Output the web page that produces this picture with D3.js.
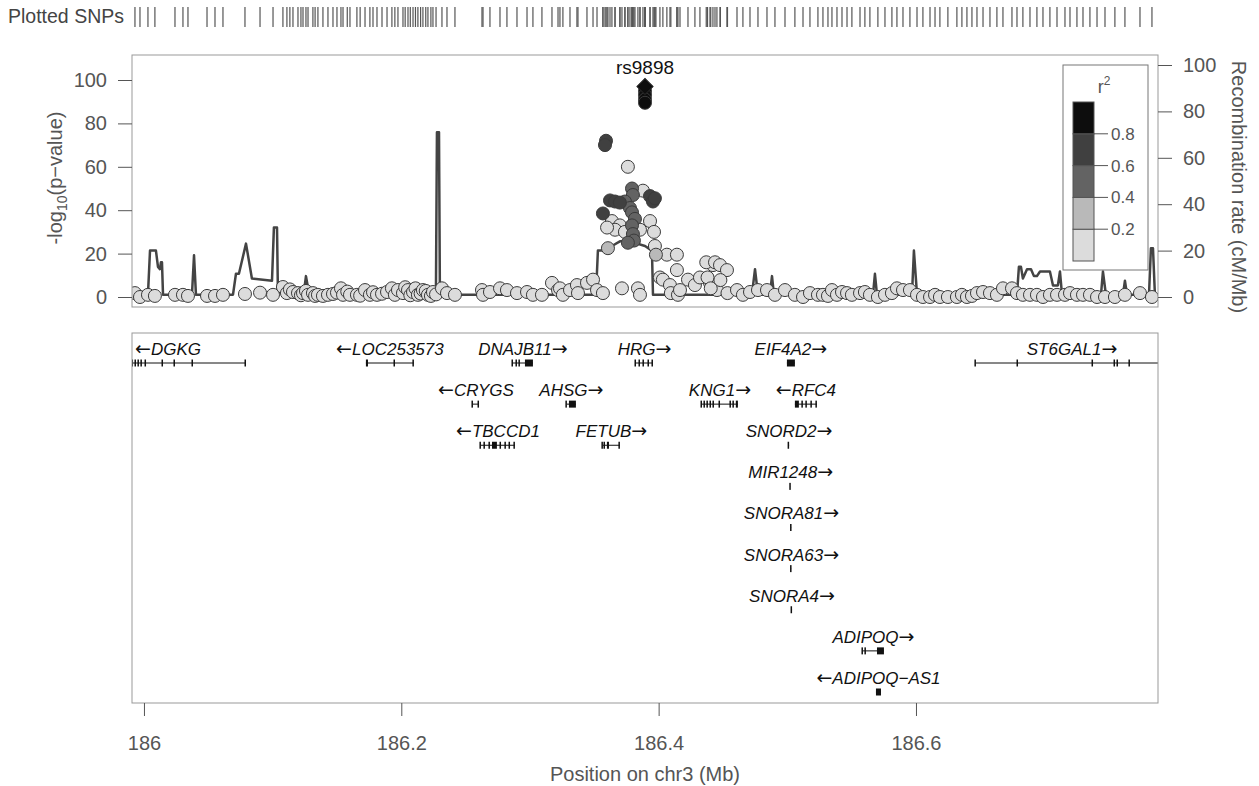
<!DOCTYPE html>
<html>
<head>
<meta charset="utf-8">
<script src="https://cdn.jsdelivr.net/npm/d3@7"></script>
<style>
body { margin: 0; background: #fff; }
text { font-family: "Liberation Sans", Arial, sans-serif; }
</style>
</head>
<body>
<svg id="chart" width="1259" height="786"></svg>
<script>
// ---- data ----
var xTicks = [186, 186.2, 186.4, 186.6];
var pTicks = [0, 20, 40, 60, 80, 100];
var recTicks = [0, 20, 40, 60, 80, 100];
var r2Breaks = [0.2, 0.4, 0.6, 0.8];
var r2Colors = ['#dcdcdc', '#b9b9b9', '#636363', '#404040', '#0d0d0d'];

var leadSnp = { name: 'rs9898', pos: 186.3894, logp: 97 };

// [position (Mb), -log10 p, r2]
var snps = [
  [185.9930,1.8,0.05],[185.9969,0,0.05],[186.0031,1,0.05],[186.0085,0.5,0.05],[186.0241,1,0.05],
  [186.0303,1,0.05],[186.0342,0.5,0.05],[186.0490,0.5,0.05],[186.0552,0.5,0.05],[186.0614,1,0.05],
  [186.0785,1.4,0.05],[186.0902,2,0.05],[186.1003,1,0.05],[186.1080,4.6,0.05],[186.1111,1.8,0.05],
  [186.1134,3.5,0.05],[186.1158,2.3,0.05],[186.1197,1.8,0.05],[186.1220,0.8,0.05],[186.1236,1.8,0.05],
  [186.1259,2.8,0.05],[186.1275,1,0.05],[186.1313,1.8,0.05],[186.1330,0.5,0.05],[186.1352,1,0.05],
  [186.1391,0.5,0.05],[186.1430,1,0.05],[186.1469,1.4,0.05],[186.1500,2,0.05],[186.1531,4,0.05],
  [186.1547,1,0.05],[186.1580,2.5,0.05],[186.1601,1,0.05],[186.1655,1,0.05],[186.1680,0.6,0.05],
  [186.1718,3.2,0.05],[186.1756,1,0.05],[186.1780,2.2,0.05],[186.1811,1,0.05],[186.1850,1.5,0.05],
  [186.1889,2.3,0.05],[186.1927,4,0.05],[186.1950,1,0.05],[186.1974,3.2,0.05],[186.2013,1.8,0.05],
  [186.2030,4.5,0.05],[186.2052,3.2,0.05],[186.2070,0.8,0.05],[186.2091,2.3,0.05],[186.2110,4,0.05],
  [186.2129,1,0.05],[186.2150,1.6,0.05],[186.2168,3.2,0.05],[186.2190,2.8,0.05],[186.2207,1,0.05],
  [186.2230,0.5,0.05],[186.2246,2.3,0.05],[186.2270,1.2,0.05],[186.2316,4,0.05],[186.2355,1.8,0.05],
  [186.2417,1,0.05],[186.2627,3.2,0.05],[186.2635,1,0.05],[186.2689,2.3,0.05],[186.2767,4,0.05],
  [186.2821,3.2,0.05],[186.2899,1.8,0.05],[186.2977,2.3,0.05],[186.3023,1,0.05],[186.3093,1,0.05],
  [186.3171,6.5,0.05],[186.3218,3.2,0.05],[186.3233,4,0.05],[186.3256,1,0.05],[186.3311,3.2,0.05],
  [186.3365,5.5,0.05],[186.3373,1.8,0.05],[186.3443,6.5,0.05],[186.3490,8,0.05],[186.3521,3.2,0.05],
  [186.3567,1.8,0.05],[186.3715,4,0.05],[186.3839,4,0.05],[186.3855,1,0.05],
  [186.4010,9,0.05],[186.4033,8,0.05],[186.4088,5.5,0.05],[186.4095,1.8,0.05],[186.4142,12.4,0.05],
  [186.4150,1,0.05],[186.4166,3.2,0.05],[186.4228,8,0.05],[186.4282,5.5,0.05],[186.4321,9,0.05],
  [186.4399,6.5,0.05],[186.4422,14.7,0.05],[186.4453,3.2,0.05],[186.4370,16,0.05],[186.4438,16,0.05],
  [186.4477,14.7,0.05],[186.4531,12.4,0.05],[186.4380,9,0.05],[186.4405,4,0.05],[186.4480,7.8,0.05],
  [186.4535,1.8,0.05],[186.4609,3.2,0.05],[186.4655,1,0.05],[186.4710,2.3,0.05],[186.4772,3.2,0.05],
  [186.4842,3.2,0.05],[186.4904,1,0.05],[186.4982,3.2,0.05],[186.5059,1,0.05],[186.5122,0,0.05],
  [186.5176,1.8,0.05],[186.5238,1,0.05],[186.5277,1,0.05],[186.5316,0.5,0.05],[186.5347,3.2,0.05],
  [186.5386,1,0.05],[186.5425,2.3,0.05],[186.5464,1.8,0.05],[186.5502,1,0.05],[186.5565,1.8,0.05],
  [186.5603,2.3,0.05],[186.5642,1,0.05],[186.5704,0,0.05],[186.5759,1,0.05],[186.5813,1.8,0.05],
  [186.5852,4,0.05],[186.5899,3.2,0.05],[186.5953,3.2,0.05],[186.6008,1,0.05],[186.6054,0,0.05],
  [186.6109,0,0.05],[186.6148,1,0.05],[186.6186,0,0.05],[186.6248,0,0.05],[186.6318,0,0.05],
  [186.6357,1,0.05],[186.6396,0,0.05],[186.6435,0.5,0.05],[186.6474,1.8,0.05],[186.6521,2.3,0.05],
  [186.6575,1.8,0.05],[186.6629,1,0.05],[186.6676,4,0.05],[186.6746,4,0.05],[186.6785,1.8,0.05],
  [186.6831,1,0.05],[186.6886,1,0.05],[186.6940,1,0.05],[186.6987,0,0.05],[186.7041,1,0.05],
  [186.7096,1,0.05],[186.7158,1,0.05],[186.7197,1.8,0.05],[186.7251,1,0.05],[186.7298,1,0.05],
  [186.7352,1,0.05],[186.7407,0,0.05],[186.7469,0,0.05],[186.7546,0,0.05],[186.7624,1,0.05],
  [186.7741,1.8,0.05],[186.7834,0,0.05],
  // peak cluster
  [186.3894,95,0.95],[186.3894,93,0.95],[186.3894,91,0.95],[186.3894,89.5,0.95],
  [186.3591,72,0.7],[186.3583,70,0.7],[186.3761,60,0.1],
  [186.3793,50,0.5],[186.3800,47,0.5],[186.3933,46.5,0.7],[186.3956,44,0.7],[186.3971,45.5,0.7],
  [186.3622,44.5,0.7],[186.3661,44,0.7],[186.3699,43.5,0.7],[186.3738,44,0.5],[186.3567,38.5,0.7],
  [186.3878,49,0.1],[186.3777,41,0.5],[186.3793,39,0.5],[186.3816,36,0.5],[186.3793,33,0.5],
  [186.3800,29,0.5],[186.3808,26,0.5],[186.3761,25,0.5],[186.3637,35,0.1],[186.3699,33,0.1],
  [186.3661,31,0.1],[186.3599,32,0.1],[186.3738,30,0.1],[186.3933,35,0.1],[186.3964,30,0.1],
  [186.3855,31,0.1],[186.3606,22.5,0.3],[186.3971,23.5,0.1],[186.3979,19.5,0.3],[186.4064,19.5,0.1],
  [186.4142,19.5,0.1]
];

// recombination rate (cM/Mb)
var recombPos = [185.9907,186.0031,186.0047,186.0093,186.0109,186.0124,186.0132,186.0140,186.0148,
  186.0373,186.0389,186.0404,186.0692,186.0715,186.0738,186.0793,186.0839,186.0995,186.1010,186.1034,
  186.1041,186.1243,186.1259,186.1275,186.1298,186.1313,186.2269,186.2277,186.2293,186.2300,
  186.3513,186.3528,186.3583,186.3637,186.3699,186.3777,186.3894,186.3948,186.3956,
  186.4725,186.4749,186.4772,186.4865,186.4881,186.4896,186.5666,186.5681,186.5697,
  186.5969,186.5984,186.6008,186.6785,186.6800,186.6816,186.6831,186.6863,186.6894,186.6917,
  186.6940,186.6964,186.7041,186.7065,186.7103,186.7119,186.7135,186.7438,186.7453,186.7476,
  186.7609,186.7624,186.7640,186.7811,186.7826,186.7842,186.7857,186.7881];
var recombRate = [1,1,20,20,13,12,15,15,1,
  1,18,1,1,10,10,23,8,7,30,30,
  2,2,9,4,4,1,1,71,71,1,
  1,20,20,22,24,24,22,20,1,
  1,12,1,1,9,1,1,10,1,
  1,20,1,1,13,13,8,12,12,9,
  9,11,11,5,5,11,1,1,11,1,
  1,7,1,1,21,21,1,1];

// genes: exons as [start, end] in Mb
var genes = [
  { name: 'DGKG', start: 185.864, end: 186.0793, strand: '-', row: 0,
    exons: [[185.9915,185.9915],[185.9938,185.9938],[185.9961,185.9961],[185.9984,185.9984],[186.0016,186.0016],
            [186.0148,186.0148],[186.0241,186.0241],[186.0381,186.0381],[186.0793,186.0793]] },
  { name: 'LOC253573', start: 186.1725, end: 186.2098, strand: '-', row: 0,
    exons: [[186.1725,186.1741],[186.1951,186.1951],[186.2098,186.2098]] },
  { name: 'DNAJB11', start: 186.2868, end: 186.3023, strand: '+', row: 0,
    exons: [[186.2868,186.2868],[186.2899,186.2899],[186.2922,186.2922],[186.2961,186.3023]] },
  { name: 'HRG', start: 186.3824, end: 186.3956, strand: '+', row: 0,
    exons: [[186.3824,186.3824],[186.3855,186.3855],[186.3886,186.3886],[186.3917,186.3925],[186.3956,186.3956]] },
  { name: 'EIF4A2', start: 186.4997, end: 186.5059, strand: '+', row: 0,
    exons: [[186.4997,186.5059]] },
  { name: 'ST6GAL1', start: 186.6466, end: 186.796, strand: '+', row: 0,
    exons: [[186.6466,186.6466],[186.6793,186.6793],[186.7376,186.7376],[186.7547,186.7547],[186.7570,186.7570],[186.7663,186.7663]] },
  { name: 'CRYGS', start: 186.2557, end: 186.2604, strand: '-', row: 1,
    exons: [[186.2557,186.2557],[186.2604,186.2604]] },
  { name: 'AHSG', start: 186.3287, end: 186.3357, strand: '+', row: 1,
    exons: [[186.3287,186.3287],[186.3303,186.3357]] },
  { name: 'KNG1', start: 186.4337, end: 186.4616, strand: '+', row: 1,
    exons: [[186.4337,186.4337],[186.4360,186.4360],[186.4383,186.4383],[186.4407,186.4407],[186.4430,186.4430],
            [186.4477,186.4477],[186.4562,186.4562],[186.4585,186.4585],[186.4600,186.4616]] },
  { name: 'RFC4', start: 186.5059, end: 186.5230, strand: '-', row: 1,
    exons: [[186.5059,186.5090],[186.5121,186.5121],[186.5152,186.5152],[186.5191,186.5191],[186.5230,186.5230]] },
  { name: 'TBCCD1', start: 186.2619, end: 186.2883, strand: '-', row: 2,
    exons: [[186.2619,186.2619],[186.2650,186.2650],[186.2689,186.2689],[186.2705,186.2743],[186.2775,186.2775],
            [186.2813,186.2813],[186.2845,186.2845],[186.2883,186.2883]] },
  { name: 'FETUB', start: 186.3567, end: 186.3699, strand: '+', row: 2,
    exons: [[186.3567,186.3567],[186.3583,186.3583],[186.3598,186.3614],[186.3699,186.3699]] },
  { name: 'SNORD2', start: 186.5013, end: 186.5014, strand: '+', row: 2, exons: [[186.5013,186.5014]] },
  { name: 'MIR1248', start: 186.5026, end: 186.5027, strand: '+', row: 3, exons: [[186.5026,186.5027]] },
  { name: 'SNORA81', start: 186.5032, end: 186.5033, strand: '+', row: 4, exons: [[186.5032,186.5033]] },
  { name: 'SNORA63', start: 186.5032, end: 186.5033, strand: '+', row: 5, exons: [[186.5032,186.5033]] },
  { name: 'SNORA4', start: 186.5036, end: 186.5037, strand: '+', row: 6, exons: [[186.5036,186.5037]] },
  { name: 'ADIPOQ', start: 186.5588, end: 186.5751, strand: '+', row: 7,
    exons: [[186.5588,186.5588],[186.5611,186.5611],[186.5697,186.5751]] },
  { name: 'ADIPOQ\u2212AS1', start: 186.5689, end: 186.5728, strand: '-', row: 8,
    exons: [[186.5689,186.5728]] }
];

// ---- layout ----
var svg = d3.select('#chart');
var plotL = 132, plotR = 1158;
var topY = 55, topB = 307;
var genesT = 333, genesB = 703;
var axisColor = '#555';

var x = d3.scaleLinear().domain([185.9907, 186.7881]).range([plotL, plotR]);
var y = d3.scaleLinear().domain([0, 100]).range([297, 80]);
var yRec = d3.scaleLinear().domain([0, 100]).range([297, 65]);
var rowY = d3.scaleLinear().domain([0, 8]).range([349, 678]);
var color = d3.scaleThreshold().domain(r2Breaks).range(r2Colors);

var defs = svg.append('defs');
defs.append('clipPath').attr('id', 'clipTop')
  .append('rect').attr('x', plotL).attr('y', topY).attr('width', plotR - plotL).attr('height', topB - topY);
defs.append('clipPath').attr('id', 'clipGenes')
  .append('rect').attr('x', plotL).attr('y', genesT).attr('width', plotR - plotL).attr('height', genesB - genesT);

// Plotted SNPs strip
svg.append('text')
  .attr('x', 8).attr('y', 23)
  .attr('font-size', 19.5).attr('fill', '#444')
  .text('Plotted SNPs');
svg.append('g').selectAll('line')
  .data(snps.map(function(d) { return d[0]; }).concat([leadSnp.pos]))
  .enter().append('line')
  .attr('x1', function(d) { return x(d); }).attr('x2', function(d) { return x(d); })
  .attr('y1', 7).attr('y2', 27)
  .attr('stroke', '#555').attr('stroke-width', 1.2);

// ---- association panel ----
var topG = svg.append('g');
var plotArea = topG.append('g').attr('clip-path', 'url(#clipTop)');

plotArea.append('path')
  .datum(d3.range(recombPos.length))
  .attr('fill', 'none')
  .attr('stroke', '#444')
  .attr('stroke-width', 2.5)
  .attr('stroke-linejoin', 'round')
  .attr('d', d3.line()
    .x(function(i) { return x(recombPos[i]); })
    .y(function(i) { return yRec(recombRate[i]); }));

var sorted = snps.slice().sort(function(a, b) { return a[2] - b[2]; });
plotArea.selectAll('.dot')
  .data(sorted)
  .enter().append('circle')
  .attr('class', 'dot')
  .attr('cx', function(d) { return x(d[0]); })
  .attr('cy', function(d) { return y(d[1]); })
  .attr('r', 6.5)
  .attr('fill', function(d) { return color(d[2]); })
  .attr('stroke', '#3a3a3a')
  .attr('stroke-width', 1);

// lead SNP diamond
plotArea.append('path')
  .attr('d', d3.symbol().type(d3.symbolSquare).size(130)())
  .attr('transform', 'translate(' + x(leadSnp.pos) + ',' + y(leadSnp.logp) + ') rotate(45)')
  .attr('fill', r2Colors[4])
  .attr('stroke', '#222');

topG.append('text')
  .attr('x', x(leadSnp.pos)).attr('y', 74)
  .attr('text-anchor', 'middle')
  .attr('font-size', 19).attr('fill', '#111')
  .text(leadSnp.name);

topG.append('rect')
  .attr('x', plotL).attr('y', topY).attr('width', plotR - plotL).attr('height', topB - topY)
  .attr('fill', 'none').attr('stroke', '#999');

function styleAxis(g) {
  g.select('.domain').remove();
  g.selectAll('.tick line').attr('stroke', axisColor);
  g.selectAll('.tick text')
    .attr('fill', axisColor)
    .attr('font-size', 20)
    .attr('font-family', '"Liberation Sans", Arial, sans-serif');
}

topG.append('g')
  .attr('transform', 'translate(' + plotL + ',0)')
  .call(d3.axisLeft(y).tickValues(pTicks).tickSize(14).tickPadding(11))
  .call(styleAxis);

topG.append('g')
  .attr('transform', 'translate(' + plotR + ',0)')
  .call(d3.axisRight(yRec).tickValues(recTicks).tickSize(14).tickPadding(11))
  .call(styleAxis);

var yTitle = topG.append('text')
  .attr('transform', 'translate(62,178) rotate(-90)')
  .attr('text-anchor', 'middle')
  .attr('font-size', 20).attr('fill', axisColor);
yTitle.append('tspan').text('-log');
yTitle.append('tspan').attr('font-size', 14).attr('dy', 5).text('10');
yTitle.append('tspan').attr('dy', -5).text('(p\u2212value)');

topG.append('text')
  .attr('transform', 'translate(1232,187) rotate(90)')
  .attr('text-anchor', 'middle')
  .attr('font-size', 20).attr('fill', axisColor)
  .text('Recombination rate (cM/Mb)');

// r2 legend
var legG = topG.append('g');
legG.append('rect')
  .attr('x', 1063).attr('y', 65).attr('width', 85).attr('height', 205)
  .attr('fill', '#fff').attr('stroke', '#777');
var legY = d3.scaleLinear().domain([0, 1]).range([261, 102]);
legG.selectAll('.seg')
  .data(r2Colors)
  .enter().append('rect')
  .attr('class', 'seg')
  .attr('x', 1073).attr('width', 21)
  .attr('y', function(d, i) { return legY((i + 1) / 5); })
  .attr('height', function(d, i) { return legY(i / 5) - legY((i + 1) / 5); })
  .attr('fill', function(d) { return d; })
  .attr('stroke', '#555');
legG.selectAll('.legTick')
  .data(r2Breaks)
  .enter().append('line')
  .attr('x1', 1094).attr('x2', 1108)
  .attr('y1', function(d) { return legY(d); }).attr('y2', function(d) { return legY(d); })
  .attr('stroke', axisColor);
legG.selectAll('.legLab')
  .data(r2Breaks)
  .enter().append('text')
  .attr('x', 1111).attr('y', function(d) { return legY(d); })
  .attr('dy', '0.35em')
  .attr('font-size', 17).attr('fill', axisColor)
  .text(function(d) { return d.toFixed(1); });
var r2Title = legG.append('text')
  .attr('x', 1104).attr('y', 93)
  .attr('text-anchor', 'middle')
  .attr('font-size', 18).attr('fill', axisColor);
r2Title.append('tspan').text('r');
r2Title.append('tspan').attr('font-size', 12).attr('dy', -8).text('2');

// ---- gene panel ----
var geneG = svg.append('g');
var geneArea = geneG.append('g').attr('clip-path', 'url(#clipGenes)');

var gEnter = geneArea.selectAll('.gene')
  .data(genes)
  .enter().append('g')
  .attr('class', 'gene');

gEnter.append('line')
  .attr('x1', function(d) { return x(d.start); })
  .attr('x2', function(d) { return x(d.end); })
  .attr('y1', function(d) { return rowY(d.row) + 14; })
  .attr('y2', function(d) { return rowY(d.row) + 14; })
  .attr('stroke', '#111').attr('stroke-width', 1);

gEnter.each(function(g) {
  d3.select(this).selectAll('.exon')
    .data(g.exons)
    .enter().append('rect')
    .attr('class', 'exon')
    .attr('x', function(e) { return Math.min(x(e[0]), x(e[1]) - 1.5); })
    .attr('width', function(e) { return Math.max(1.5, x(e[1]) - x(e[0])); })
    .attr('y', rowY(g.row) + 14 - 3.5)
    .attr('height', 7)
    .attr('fill', '#111');
});

var labels = gEnter.append('text')
  .attr('y', function(d) { return rowY(d.row); })
  .attr('dy', '0.35em')
  .attr('text-anchor', 'middle')
  .attr('font-size', 17)
  .attr('fill', '#111');
labels.each(function(d) {
  var t = d3.select(this);
  var arrow = function() {
    return t.append('tspan')
      .attr('font-family', '"DejaVu Sans", sans-serif')
      .attr('font-size', 19)
      .text(d.strand === '+' ? '\u2192' : '\u2190');
  };
  if (d.strand === '-') arrow();
  t.append('tspan').attr('font-style', 'italic').text(d.name);
  if (d.strand === '+') arrow();
});
labels.attr('x', function(d) {
  var w = this.getComputedTextLength();
  var mid = x((d.start + d.end) / 2);
  return Math.max(plotL + 3 + w / 2, Math.min(plotR - 3 - w / 2, mid));
});

geneG.append('rect')
  .attr('x', plotL).attr('y', genesT).attr('width', plotR - plotL).attr('height', genesB - genesT)
  .attr('fill', 'none').attr('stroke', '#999');

geneG.append('g')
  .attr('transform', 'translate(0,' + genesB + ')')
  .call(d3.axisBottom(x).tickValues(xTicks).tickSize(13).tickPadding(20).tickFormat(d3.format('~g')))
  .call(styleAxis);

geneG.append('text')
  .attr('x', (plotL + plotR) / 2).attr('y', 781)
  .attr('text-anchor', 'middle')
  .attr('font-size', 20).attr('fill', axisColor)
  .text('Position on chr3 (Mb)');
</script>
</body>
</html>
